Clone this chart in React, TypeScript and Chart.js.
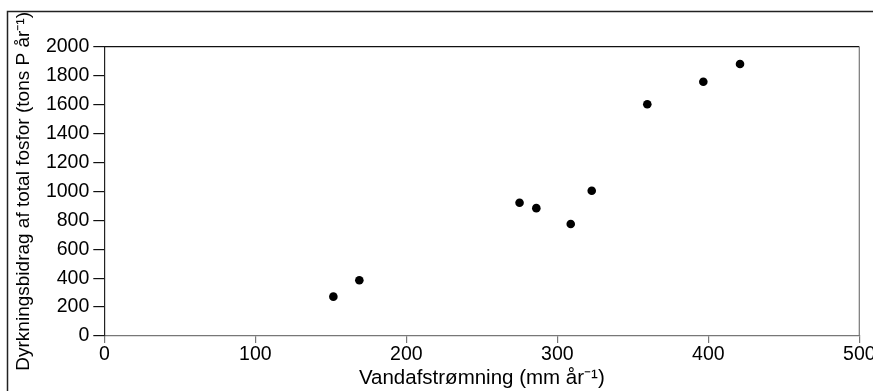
import React, { useEffect, useRef } from "react";
import { Chart, registerables } from "chart.js";

Chart.register(...registerables);

const flowValues = [151.7, 168.9, 275.0, 286.1, 308.9, 322.8, 359.6, 396.7, 421.0];
const phosphorusValues = [272, 385, 921, 884, 774, 1004, 1602, 1758, 1880];
const xTitle = "Vandafstrømning (mm år⁻¹)";
const yTitle = "Dyrkningsbidrag af total fosfor (tons P år⁻¹)";

const FONT = "'Liberation Sans', Arial, Helvetica, sans-serif";

const framePlugin = {
  id: "frame",
  beforeDraw(chart: any) {
    const { ctx, width, height } = chart;
    ctx.save();
    ctx.fillStyle = "#ffffff";
    ctx.fillRect(0, 0, width, height);
    ctx.strokeStyle = "#222";
    ctx.lineWidth = 1.5;
    ctx.beginPath();
    ctx.moveTo(7.5, height);
    ctx.lineTo(7.5, 11.5);
    ctx.lineTo(width, 11.5);
    ctx.stroke();
    ctx.restore();
  },
  afterDraw(chart: any) {
    const { ctx, chartArea } = chart;
    ctx.save();
    ctx.lineWidth = 1.2;
    ctx.strokeStyle = "#111";
    ctx.beginPath();
    ctx.moveTo(chartArea.left, chartArea.top);
    ctx.lineTo(chartArea.right, chartArea.top);
    ctx.stroke();
    ctx.strokeStyle = "#777";
    ctx.beginPath();
    ctx.moveTo(chartArea.right, chartArea.top);
    ctx.lineTo(chartArea.right, chartArea.bottom);
    ctx.stroke();
    ctx.restore();
  },
};

export default function App() {
  const ref = useRef<HTMLCanvasElement | null>(null);
  useEffect(() => {
    if (!ref.current) return;
    const chart = new Chart(ref.current, {
      type: "scatter",
      data: {
        datasets: [
          {
            data: flowValues.map((x, i) => ({ x, y: phosphorusValues[i] })),
            backgroundColor: "#000",
            borderColor: "#000",
            borderWidth: 0,
            pointRadius: 4.3,
          },
        ],
      },
      options: {
        responsive: false,
        animation: false,
        layout: { padding: { top: 46.7, left: 0, right: 40.7, bottom: 9.6 } },
        plugins: { legend: { display: false }, tooltip: { enabled: false } },
        scales: {
          x: {
            type: "linear",
            min: 0,
            max: 500,
            afterFit: (s: any) => {
              s.height = 54.4;
            },
            ticks: {
              stepSize: 100,
              padding: 0,
              color: "#000",
              font: { family: FONT, size: 19.5 },
              callback: (v: any) => String(v),
            },
            grid: {
              drawOnChartArea: false,
              drawTicks: true,
              tickLength: 7,
              color: "#777",
              lineWidth: 1.2,
            },
            border: { display: true, color: "#777", width: 1.2 },
            title: {
              display: true,
              text: xTitle,
              color: "#000",
              font: { family: FONT, size: 20.5 },
              padding: { top: 0, bottom: 0 },
            },
          },
          y: {
            type: "linear",
            min: 0,
            max: 2000,
            afterFit: (s: any) => {
              s.width = 104.3;
            },
            ticks: {
              stepSize: 200,
              padding: 4,
              color: "#000",
              font: { family: FONT, size: 19.5 },
              callback: (v: any) => String(v),
            },
            grid: {
              drawOnChartArea: false,
              drawTicks: true,
              tickLength: 11,
              color: "#111",
              lineWidth: 1.2,
            },
            border: { display: true, color: "#222", width: 1.2 },
            title: {
              display: true,
              text: yTitle,
              color: "#000",
              font: { family: FONT, size: 19 },
              padding: { top: 12.6, bottom: 0 },
            },
          },
        },
      },
      plugins: [framePlugin],
    });
    return () => chart.destroy();
  }, []);
  return (
    <div
      style={{
        position: "fixed",
        left: 0,
        top: 0,
        width: 873,
        height: 391,
        overflow: "hidden",
        background: "#fff",
      }}
    >
      <canvas ref={ref} width={900} height={400} style={{ display: "block" }} />
    </div>
  );
}
